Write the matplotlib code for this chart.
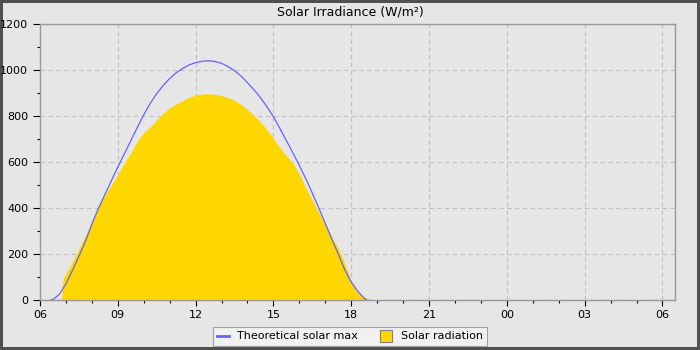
import datetime
import matplotlib
matplotlib.use("Agg")
import matplotlib.pyplot as plt
import matplotlib.dates as dates
from matplotlib.lines import Line2D
from matplotlib.ticker import MultipleLocator

# theoretical max (HH:MM, W/m2)
max_times = ["06:25", "06:30", "06:45", "07:00", "07:15", "07:30", "07:45", "08:00", "08:15",
             "08:30", "08:45", "09:00", "09:15", "09:30", "09:45", "10:00", "10:15", "10:30",
             "10:45", "11:00", "11:15", "11:30", "11:45", "12:00", "12:15", "12:30", "12:45",
             "13:00", "13:15", "13:30", "13:45", "14:00", "14:15", "14:30", "14:45", "15:00",
             "15:15", "15:30", "15:45", "16:00", "16:15", "16:30", "16:45", "17:00", "17:15",
             "17:30", "17:45", "18:00", "18:15", "18:30", "18:35"]
max_values = [0, 2, 25, 70, 128, 190, 255, 330, 398,
              458, 518, 578, 635, 692, 750, 805, 855, 897,
              933, 963, 988, 1007, 1022, 1032, 1038, 1040, 1037,
              1029, 1015, 997, 974, 945, 914, 880, 840, 797,
              746, 693, 640, 585, 527, 465, 400, 333, 265,
              200, 132, 78, 38, 8, 0]

# measured solar radiation
rad_times = ["06:50", "06:51", "06:55", "07:00", "07:15", "07:30", "07:45", "08:00", "08:15",
             "08:30", "08:45", "09:00", "09:15", "09:30", "09:45", "10:00", "10:15", "10:30",
             "10:45", "11:00", "11:15", "11:30", "11:45", "12:00", "12:15", "12:30", "12:45",
             "13:00", "13:15", "13:30", "13:45", "14:00", "14:15", "14:30", "14:45", "15:00",
             "15:15", "15:30", "15:45", "16:00", "16:15", "16:30", "16:45", "17:00", "17:15",
             "17:30", "17:45", "18:00", "18:15", "18:30", "18:45", "18:52"]
rad_values = [0, 60, 100, 115, 165, 222, 280, 335, 408,
              455, 500, 545, 595, 640, 690, 728, 752, 783,
              812, 835, 852, 866, 882, 890, 896, 897, 895,
              888, 880, 868, 850, 828, 802, 775, 740, 703,
              662, 628, 596, 548, 488, 435, 378, 332, 275,
              225, 160, 78, 32, 13, 4, 0]

day = datetime.datetime(2024, 6, 21)


def to_dt(hhmm):
    h, m = hhmm.split(":")
    return day + datetime.timedelta(hours=int(h), minutes=int(m))


max_x = [to_dt(t) for t in max_times]
rad_x = [to_dt(t) for t in rad_times]

bg = "#e6e6e6"
fig = plt.figure(figsize=(7, 3.5), dpi=100)
fig.patch.set_facecolor(bg)
fig.patch.set_edgecolor("#505050")
fig.patch.set_linewidth(4)

ax = fig.add_axes([40 / 700, 50 / 350, 635 / 700, 276 / 350])
ax.set_facecolor(bg)

ax.fill_between(rad_x, rad_values, 0, color="#ffd700", linewidth=0, zorder=2)
ax.plot(max_x, max_values, color="#6464ff", linewidth=0.9, zorder=3)

ax.set_xlim(day + datetime.timedelta(hours=6), day + datetime.timedelta(hours=30, minutes=29))
ax.set_ylim(0, 1200)

ax.xaxis.set_major_locator(dates.HourLocator(byhour=[0, 3, 6, 9, 12, 15, 18, 21]))
ax.xaxis.set_minor_locator(dates.HourLocator())
ax.xaxis.set_major_formatter(dates.DateFormatter("%H"))
ax.yaxis.set_major_locator(MultipleLocator(200))
ax.yaxis.set_minor_locator(MultipleLocator(100))

ax.tick_params(axis="both", which="major", labelsize=8, direction="out", color="black", width=0.8)
ax.tick_params(axis="y", which="major", length=5)
ax.tick_params(axis="x", which="major", length=4)
ax.tick_params(axis="both", which="minor", length=2.5, direction="out", color="black", width=0.8)

for s in ax.spines.values():
    s.set_color("#999999")
    s.set_linewidth(1)

ax.grid(True, which="major", color="#c0c0c0", linestyle=(0, (4, 3)), linewidth=0.8, zorder=1)
ax.set_axisbelow(True)

fig.text(0.5, 1 - 12 / 350, "Solar Irradiance (W/m²)", ha="center", va="center", fontsize=9)

handles = [
    Line2D([], [], color="#6464ff", linewidth=2),
    Line2D([], [], color="none", marker="s", markersize=8, markerfacecolor="#ffd700",
           markeredgecolor="#808080", markeredgewidth=0.8),
]
leg = fig.legend(handles, ["Theoretical solar max", "Solar radiation"], loc="upper center",
                 bbox_to_anchor=(0.5, 1 - 327 / 350), ncol=2, fontsize=8, frameon=True,
                 fancybox=False, handlelength=1.0, handletextpad=0.8, columnspacing=2.0,
                 borderpad=0.4, borderaxespad=0)
leg.get_frame().set_facecolor("#f5f5f5")
leg.get_frame().set_edgecolor("#909090")
leg.get_frame().set_linewidth(0.8)

fig.savefig("out.png", dpi=100, facecolor=fig.get_facecolor(), edgecolor=fig.get_edgecolor())
